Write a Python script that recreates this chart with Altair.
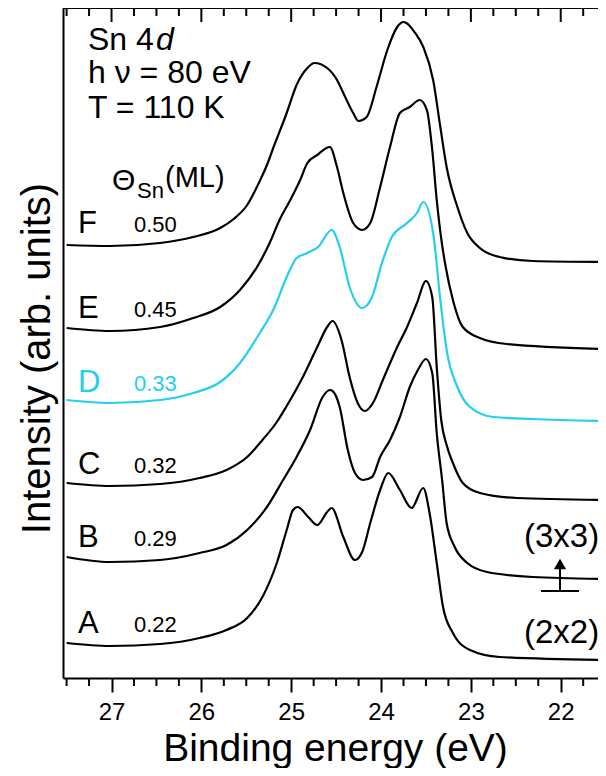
import altair as alt
import pandas as pd

# ---- data: binding energy (eV) and intensity (arb. units, offset spectra)
F_E = [27.50, 27.02, 26.46, 26.09, 25.79, 25.64, 25.49, 25.35, 25.27, 25.20, 25.05, 24.94, 24.82, 24.74, 24.60, 24.49, 24.42, 24.31, 24.25, 24.16, 24.05, 23.93, 23.82, 23.75, 23.62, 23.53, 23.42, 23.34, 23.27, 23.15, 23.04, 22.90, 22.68, 22.31, 21.50]
F_I = [433, 432, 435, 441, 450, 459, 473, 497, 513, 530, 565, 593, 610, 615, 610, 598, 585, 565, 557, 561, 591, 628, 651, 656, 645, 631, 598, 551, 511, 471, 445, 430, 421, 417, 416]

E_E = [27.50, 27.02, 26.46, 26.09, 25.79, 25.57, 25.38, 25.24, 25.13, 25.01, 24.90, 24.82, 24.71, 24.57, 24.49, 24.42, 24.31, 24.21, 24.12, 24.01, 23.90, 23.79, 23.68, 23.57, 23.49, 23.43, 23.38, 23.32, 23.28, 23.20, 23.09, 22.90, 22.60, 21.50]
E_I = [350, 347, 351, 360, 371, 388, 411, 435, 458, 478, 498, 515, 523, 531, 511, 485, 455, 448, 455, 491, 531, 565, 571, 578, 568, 528, 478, 433, 411, 378, 351, 340, 334, 329]

D_E = [27.50, 27.02, 26.46, 26.09, 25.79, 25.57, 25.35, 25.20, 25.05, 24.94, 24.82, 24.70, 24.55, 24.46, 24.35, 24.21, 24.10, 23.99, 23.88, 23.71, 23.60, 23.53, 23.42, 23.34, 23.27, 23.15, 23.01, 22.75, 22.31, 21.50]
D_I = [278, 275, 278, 285, 296, 315, 345, 368, 401, 420, 425, 431, 448, 431, 391, 370, 381, 415, 441, 455, 465, 476, 445, 378, 328, 291, 271, 261, 259, 257]

C_E = [27.50, 27.02, 26.46, 26.02, 25.72, 25.49, 25.32, 25.16, 25.05, 24.87, 24.71, 24.60, 24.54, 24.44, 24.35, 24.26, 24.18, 24.09, 23.98, 23.82, 23.71, 23.60, 23.50, 23.43, 23.38, 23.33, 23.27, 23.20, 23.09, 22.90, 22.49, 21.50]
C_I = [195, 192, 194, 200, 208, 221, 238, 256, 272, 301, 331, 351, 357, 338, 301, 275, 267, 275, 298, 331, 351, 375, 397, 381, 311, 258, 233, 215, 195, 185, 180, 178]

B_E = [27.50, 27.02, 26.46, 26.02, 25.72, 25.49, 25.27, 25.09, 24.94, 24.79, 24.65, 24.57, 24.54, 24.46, 24.37, 24.29, 24.20, 24.10, 24.01, 23.90, 23.79, 23.68, 23.59, 23.50, 23.43, 23.38, 23.32, 23.27, 23.18, 23.04, 22.82, 22.31, 21.50]
B_I = [121, 116, 118, 125, 133, 148, 171, 198, 221, 248, 281, 288, 287, 271, 228, 205, 198, 201, 221, 238, 261, 291, 308, 319, 305, 245, 198, 155, 131, 115, 106, 101, 99]

A_E = [27.50, 27.02, 26.46, 26.02, 25.72, 25.49, 25.32, 25.16, 25.05, 24.98, 24.93, 24.81, 24.71, 24.60, 24.55, 24.42, 24.29, 24.21, 24.12, 24.01, 23.92, 23.79, 23.66, 23.53, 23.46, 23.38, 23.31, 23.20, 23.01, 22.68, 21.50]
A_I = [35, 32, 34, 40, 48, 60, 81, 115, 148, 168, 171, 161, 153, 166, 170, 141, 118, 126, 155, 188, 205, 188, 170, 190, 165, 115, 71, 45, 28, 21, 18]

SERIES = ["A", "B", "C", "D", "E", "F"]
COVERAGE = ["0.22", "0.29", "0.32", "0.33", "0.45", "0.50"]
MAJOR_TICKS = [22, 23, 24, 25, 26, 27]
MINOR_TICKS = [21.75, 22.25, 22.5, 22.75, 23.25, 23.5, 23.75, 24.25, 24.5, 24.75,
               25.25, 25.5, 25.75, 26.25, 26.5, 26.75, 27.25, 27.5]

BLACK = "#000000"
CYAN = "#22cfef"
FONT = "Liberation Sans"

W, H = 535, 670
X_MIN, X_MAX = 21.585, 27.54

series_data = {"A": (A_E, A_I), "B": (B_E, B_I), "C": (C_E, C_I),
               "D": (D_E, D_I), "E": (E_E, E_I), "F": (F_E, F_I)}
rows = []
for s in SERIES:
    es, ins = series_data[s]
    for e, i in zip(es, ins):
        rows.append({"energy": e, "intensity": i, "series": s})
df = pd.DataFrame(rows)

xscale = alt.Scale(domain=[X_MIN, X_MAX], reverse=True, nice=False, zero=False)
yscale = alt.Scale(domain=[0, 670], nice=False, zero=False)
colors = [CYAN if s == "D" else BLACK for s in SERIES]

xaxis = alt.Axis(values=MAJOR_TICKS, format="d", tickSize=14, tickWidth=2,
                 tickColor=BLACK, domainColor=BLACK, domainWidth=2, grid=False,
                 labelFontSize=24, labelFont=FONT, labelColor=BLACK,
                 labelBaseline="alphabetic", labelPadding=27,
                 title="Binding energy (eV)", titleFontSize=39, titleFont=FONT,
                 titleFontWeight="normal", titleColor=BLACK,
                 titleBaseline="alphabetic", titleY=82, titleX=272)

lines = alt.Chart(df).mark_line(strokeWidth=2.2, interpolate="monotone", clip=True).encode(
    x=alt.X("energy:Q", scale=xscale, axis=xaxis),
    y=alt.Y("intensity:Q", scale=yscale,
            axis=alt.Axis(ticks=False, labels=False, grid=False, domainColor=BLACK,
                          domainWidth=2, title="Intensity (arb. units)", titleFontSize=40,
                          titleFont=FONT, titleFontWeight="normal", titleColor=BLACK,
                          titleAngle=270, titleAlign="center", titleBaseline="alphabetic",
                          titleX=-14, titleY=350)),
    color=alt.Color("series:N", scale=alt.Scale(domain=SERIES, range=colors), legend=None),
    detail="series:N",
)

major_df = pd.DataFrame({"energy": MAJOR_TICKS})
minor_df = pd.DataFrame({"energy": MINOR_TICKS})

def tick_layer(d, y0, y1):
    return alt.Chart(d).mark_rule(color=BLACK, strokeWidth=2).encode(
        x=alt.X("energy:Q", scale=xscale, axis=xaxis),
        y=alt.value(y0), y2=alt.value(y1))

top_major = tick_layer(major_df, 0, 14)
top_minor = tick_layer(minor_df, 0, 8)
bottom_minor = tick_layer(minor_df, H, H + 8)

top_frame = alt.Chart(major_df.head(1)).mark_rule(color=BLACK, strokeWidth=2).encode(
    x=alt.value(0), x2=alt.value(W), y=alt.value(0))

OX, OY = 63, 8  # plot origin in the page

def txt(t, x, y, size, color=BLACK, style="normal", align="left"):
    return alt.Chart(pd.DataFrame({"t": [t]})).mark_text(
        align=align, baseline="alphabetic", fontSize=size, font=FONT,
        fontStyle=style, color=color).encode(
        text="t:N", x=alt.value(x - OX), y=alt.value(y - OY))

texts = [
    txt("Sn 4", 88, 50, 32),
    txt("d", 156, 50, 32, style="italic"),
    txt("h \u03bd = 80 eV", 88, 83, 32),
    txt("T = 110 K", 88, 118, 32),
    txt("\u0398", 112, 190, 30),
    txt("Sn", 137, 198, 22),
    txt("(ML)", 165, 187, 29),
    txt("(3x3)", 524, 547, 33),
    txt("(2x2)", 524, 643, 33),
]
letter_base = {"F": 233, "E": 318, "D": 392, "C": 474, "B": 547, "A": 633}
for s, c in zip(SERIES, COVERAGE):
    col = CYAN if s == "D" else BLACK
    texts.append(txt(s, 78, letter_base[s], 31, color=col))
    texts.append(txt(c, 134, letter_base[s] - 1, 22, color=col))

# (3x3) <- (2x2) transition marker
one = pd.DataFrame({"k": [0]})
arrow_stem = alt.Chart(one).mark_rule(color=BLACK, strokeWidth=2).encode(
    x=alt.value(560 - OX), y=alt.value(591 - OY), y2=alt.value(566 - OY))
arrow_bar = alt.Chart(one).mark_rule(color=BLACK, strokeWidth=2).encode(
    x=alt.value(541 - OX), x2=alt.value(579 - OX), y=alt.value(591 - OY))
arrow_head = alt.Chart(one).mark_point(shape="triangle-up", filled=True, color=BLACK,
                                       size=150, opacity=1).encode(
    x=alt.value(560 - OX), y=alt.value(564 - OY))

chart = alt.layer(
    lines, top_frame, top_major, top_minor, bottom_minor,
    arrow_stem, arrow_bar, arrow_head, *texts
).properties(
    width=W, height=H,
    padding={"left": 55, "top": 0, "right": 0, "bottom": 90},
    autosize=alt.AutoSizeParams(type="none"),
).configure_view(stroke=None).configure(font=FONT)

chart.save("out.html", embed_options={"renderer": "svg", "actions": False})
